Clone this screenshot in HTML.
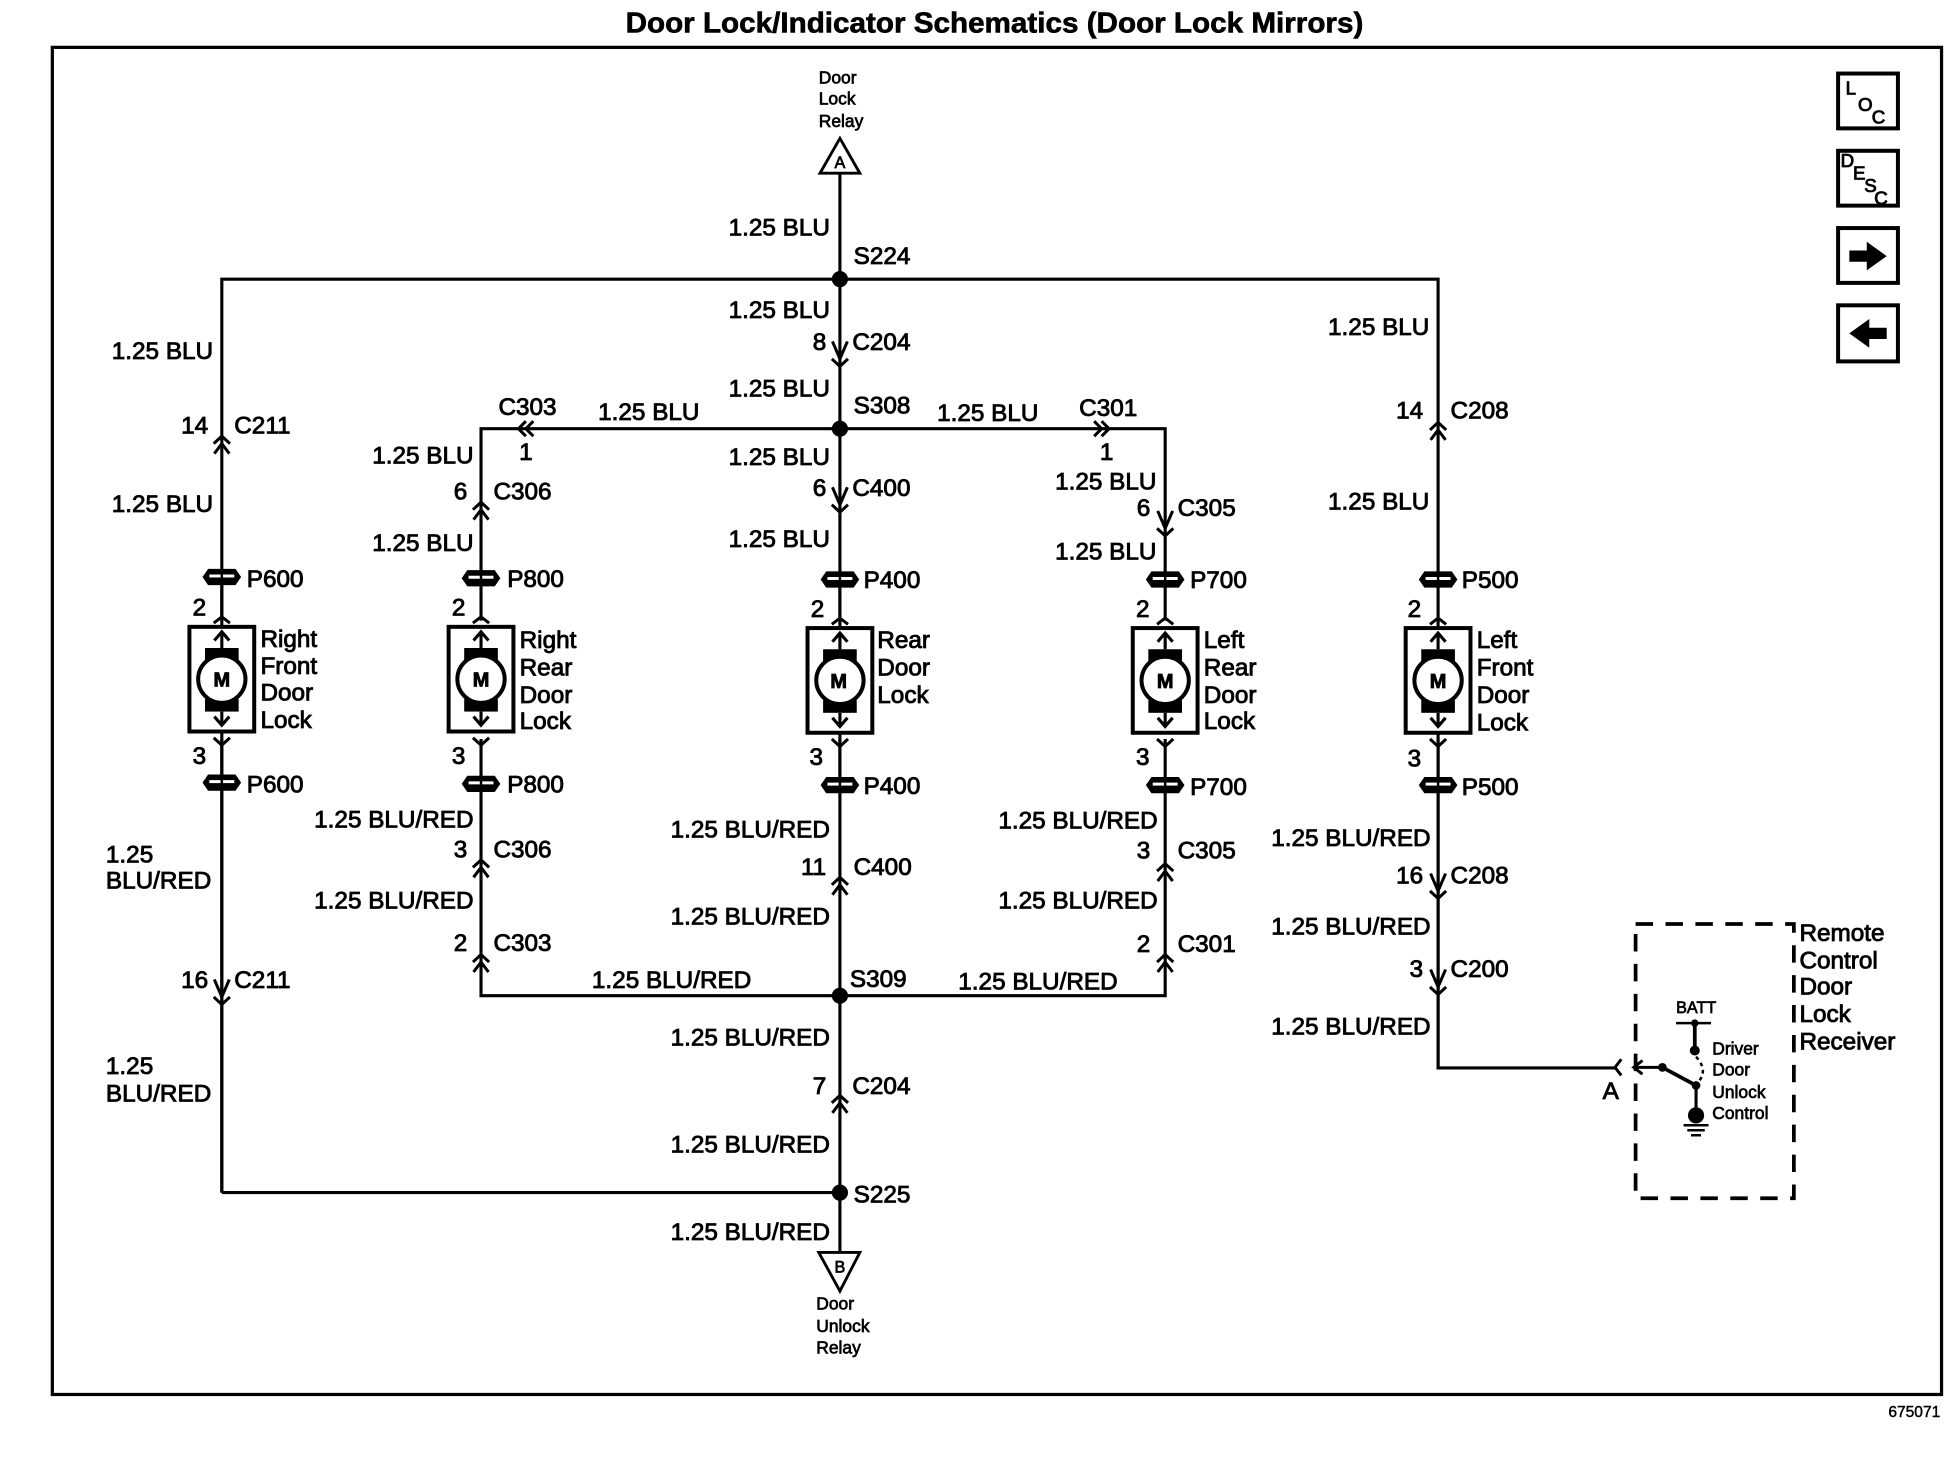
<!DOCTYPE html>
<html><head><meta charset="utf-8"><title>Door Lock/Indicator Schematics (Door Lock Mirrors)</title>
<style>
html,body{margin:0;padding:0;background:#fff;width:1954px;height:1472px;overflow:hidden}
svg{display:block}
text{font-family:"Liberation Sans",Arial,sans-serif;font-size:19.5px;fill:#000;stroke:#000;stroke-width:.7px}
.e{text-anchor:end}.m{text-anchor:middle}
.s{font-size:14px;stroke-width:.55px}
.w{fill:none;stroke:#000;stroke-width:2.5;stroke-linejoin:miter}
.c{fill:none;stroke:#000;stroke-width:2.4}
</style></head><body>
<svg xmlns="http://www.w3.org/2000/svg" width="1954" height="1472" viewBox="0 0 1568 1181.2">
<defs>
<g id="up"><path class="c" d="M-6.5 6L0 0L6.5 6M-6 14L0 6L6 14"/></g>
<g id="dn"><path class="c" d="M-6 -14L0 0L6 -14M-6.5 0L0 6L6.5 0" /></g>
<g id="pl"><path d="M-15.5 0L-11 -6.5H11L15.5 0L11 6.5H-11Z" fill="#000"/><rect x="-10" y="-2" width="20" height="2.4" fill="#fff"/><path d="M0 -3V3" stroke="#000" stroke-width="2"/></g>
<g id="mo">
<rect x="-26" y="-42" width="52" height="84" fill="#fff" stroke="#000" stroke-width="3.2"/>
<rect x="-13.5" y="-25" width="27" height="15" fill="#000"/>
<rect x="-13.5" y="16" width="27" height="10" fill="#000"/>
<circle r="19" fill="#fff" stroke="#000" stroke-width="3.2"/>
<path class="w" d="M0 -25V-37M-6 -31L0 -38L6 -31M0 26V36M-6 30L0 37L6 30"/>
<path class="c" d="M-6.5 -45L0 -50L6.5 -45M-6.5 47L0 53L6.5 47"/>
</g>
</defs>

<!-- frame -->
<rect x="42" y="38" width="1516" height="1081" fill="none" stroke="#000" stroke-width="2.6"/>

<!-- title -->
<text x="502" y="26" textLength="592" lengthAdjust="spacingAndGlyphs" style="font-size:23px;font-weight:bold;stroke-width:.5px">Door Lock/Indicator Schematics (Door Lock Mirrors)</text>

<!-- wires -->
<path class="w" d="M674 139V1005M178 957V224H1154V857H1296"/>
<path class="w" d="M178 957H674M178 498V463M178 593V957"/>
<path class="w" d="M386 498V344H935V498M386 593V799H935V593"/>
<path class="w" d="M1154 593V857M674 593V630"/>
<path d="M674 495V463" class="w" />

<circle cx="674" cy="224" r="6.5" /><circle cx="674" cy="344" r="6.5"/><circle cx="674" cy="799" r="6.5"/><circle cx="674" cy="957" r="6.5"/>

<!-- relay flags -->
<path d="M674 111L690 139H658Z" fill="#fff" stroke="#000" stroke-width="2.3"/>
<text class="s m" x="674" y="135" style="font-size:13px">A</text>
<path d="M657 1005H690L674 1036Z" fill="#fff" stroke="#000" stroke-width="2.3"/>
<text class="s m" x="674" y="1021" style="font-size:13px">B</text>
<text class="s" x="657" y="67">Door</text><text class="s" x="657" y="84">Lock</text><text class="s" x="657" y="102">Relay</text>
<text class="s" x="655" y="1051">Door</text><text class="s" x="655" y="1069">Unlock</text><text class="s" x="655" y="1086">Relay</text>

<!-- connectors -->
<use href="#up" x="178" y="350"/><use href="#up" x="386" y="403"/><use href="#up" x="1154" y="339"/>
<use href="#dn" x="674" y="288"/><use href="#dn" x="674" y="405"/><use href="#dn" x="935" y="424"/>
<use href="#up" x="386" y="690"/><use href="#up" x="386" y="766"/><use href="#dn" x="178" y="800"/>
<use href="#up" x="674" y="704"/><use href="#up" x="674" y="879"/>
<use href="#up" x="935" y="693"/><use href="#up" x="935" y="766"/>
<use href="#dn" x="1154" y="715"/><use href="#dn" x="1154" y="792"/>
<path class="c" d="M422 338L416 344L422 350M428 338L422 344L428 350M884 338L890 344L884 350M878 338L884 344L878 350"/>

<!-- plugs -->
<use href="#pl" x="178" y="463"/><use href="#pl" x="178" y="628"/>
<use href="#pl" x="386" y="464"/><use href="#pl" x="386" y="629"/>
<use href="#pl" x="674" y="465"/><use href="#pl" x="674" y="630"/>
<use href="#pl" x="935" y="465"/><use href="#pl" x="935" y="630"/>
<use href="#pl" x="1154" y="465"/><use href="#pl" x="1154" y="630"/>

<!-- motors -->
<g><use href="#mo" x="178" y="545"/><use href="#mo" x="386" y="545"/><use href="#mo" x="674" y="546"/><use href="#mo" x="935" y="546"/><use href="#mo" x="1154" y="546"/></g>
<g style="font-weight:bold">
<text class="m" x="178" y="551" style="font-size:16px">M</text><text class="m" x="386" y="551" style="font-size:16px">M</text><text class="m" x="673" y="552" style="font-size:16px">M</text><text class="m" x="935" y="552" style="font-size:16px">M</text><text class="m" x="1154" y="552" style="font-size:16px">M</text>
</g>

<!-- top & left labels -->
<text class="e" x="666" y="189">1.25 BLU</text><text x="685" y="212">S224</text>
<text class="e" x="666" y="255">1.25 BLU</text><text class="e" x="663" y="281">8</text><text x="684" y="281">C204</text>
<text class="e" x="666" y="318">1.25 BLU</text><text x="685" y="332">S308</text>
<text x="400" y="333">C303</text><text x="480" y="337">1.25 BLU</text><text x="752" y="338">1.25 BLU</text><text x="866" y="334">C301</text>
<text class="m" x="422" y="369">1</text><text class="m" x="888" y="369">1</text>

<text class="e" x="171" y="288">1.25 BLU</text><text class="e" x="167" y="348">14</text><text x="188" y="348">C211</text>
<text class="e" x="171" y="411">1.25 BLU</text><text x="198" y="471">P600</text><text class="m" x="160" y="494">2</text>

<text class="e" x="380" y="372">1.25 BLU</text><text class="e" x="375" y="401">6</text><text x="396" y="401">C306</text>
<text class="e" x="380" y="442">1.25 BLU</text><text x="407" y="471">P800</text><text class="m" x="368" y="494">2</text>

<text class="e" x="666" y="373">1.25 BLU</text><text class="e" x="663" y="398">6</text><text x="684" y="398">C400</text>
<text class="e" x="666" y="439">1.25 BLU</text><text x="693" y="472">P400</text><text class="m" x="656" y="495">2</text>

<text class="e" x="928" y="393">1.25 BLU</text><text class="e" x="923" y="414">6</text><text x="945" y="414">C305</text>
<text class="e" x="928" y="449">1.25 BLU</text><text x="955" y="472">P700</text><text class="m" x="917" y="495">2</text>

<text class="e" x="1147" y="269">1.25 BLU</text><text class="e" x="1142" y="336">14</text><text x="1164" y="336">C208</text>
<text class="e" x="1147" y="409">1.25 BLU</text><text x="1173" y="472">P500</text><text class="m" x="1135" y="495">2</text>

<!-- motor labels -->
<text x="209" y="519">Right</text><text x="209" y="541">Front</text><text x="209" y="562">Door</text><text x="209" y="584">Lock</text>
<text x="417" y="520">Right</text><text x="417" y="542">Rear</text><text x="417" y="564">Door</text><text x="417" y="585">Lock</text>
<text x="704" y="520">Rear</text><text x="704" y="542">Door</text><text x="704" y="564">Lock</text>
<text x="966" y="520">Left</text><text x="966" y="542">Rear</text><text x="966" y="564">Door</text><text x="966" y="585">Lock</text>
<text x="1185" y="520">Left</text><text x="1185" y="542">Front</text><text x="1185" y="564">Door</text><text x="1185" y="586">Lock</text>

<!-- lower labels -->
<text class="m" x="160" y="613">3</text><text class="m" x="368" y="613">3</text><text class="m" x="655" y="614">3</text><text class="m" x="917" y="614">3</text><text class="m" x="1135" y="615">3</text>
<text x="198" y="636">P600</text><text x="407" y="636">P800</text><text x="693" y="637">P400</text><text x="955" y="638">P700</text><text x="1173" y="638">P500</text>

<text x="85" y="692">1.25</text><text x="85" y="713">BLU/RED</text><text class="e" x="167" y="793">16</text><text x="188" y="793">C211</text>
<text x="85" y="862">1.25</text><text x="85" y="884">BLU/RED</text>

<text class="e" x="380" y="664">1.25 BLU/RED</text><text class="e" x="375" y="688">3</text><text x="396" y="688">C306</text>
<text class="e" x="380" y="729">1.25 BLU/RED</text><text class="e" x="375" y="763">2</text><text x="396" y="763">C303</text>
<text x="475" y="793">1.25 BLU/RED</text><text x="682" y="792">S309</text><text x="769" y="794">1.25 BLU/RED</text>

<text class="e" x="666" y="672">1.25 BLU/RED</text><text class="e" x="663" y="702">11</text><text x="685" y="702">C400</text>
<text class="e" x="666" y="742">1.25 BLU/RED</text><text class="e" x="666" y="839">1.25 BLU/RED</text>
<text class="e" x="663" y="878">7</text><text x="684" y="878">C204</text>
<text class="e" x="666" y="925">1.25 BLU/RED</text><text x="685" y="965">S225</text><text class="e" x="666" y="995">1.25 BLU/RED</text>

<text class="e" x="929" y="665">1.25 BLU/RED</text><text class="e" x="923" y="689">3</text><text x="945" y="689">C305</text>
<text class="e" x="929" y="729">1.25 BLU/RED</text><text class="e" x="923" y="764">2</text><text x="945" y="764">C301</text>

<text class="e" x="1148" y="679">1.25 BLU/RED</text><text class="e" x="1142" y="709">16</text><text x="1164" y="709">C208</text>
<text class="e" x="1148" y="750">1.25 BLU/RED</text><text class="e" x="1142" y="784">3</text><text x="1164" y="784">C200</text>
<text class="e" x="1148" y="830">1.25 BLU/RED</text>

<!-- receiver -->
<rect x="1312.5" y="741.5" width="127" height="220" fill="none" stroke="#000" stroke-width="3" stroke-dasharray="14 10"/>
<text x="1444" y="755">Remote</text><text x="1444" y="777">Control</text><text x="1444" y="798">Door</text><text x="1444" y="820">Lock</text><text x="1444" y="842">Receiver</text>
<text x="1286" y="882">A</text>
<path class="c" d="M1301 850L1296 856.5L1301 863"/>
<path class="c" d="M1318 851L1311 856.5L1318 862M1311 856.5H1333"/>
<circle cx="1334" cy="856.5" r="3.5"/>
<path class="w" style="stroke-width:3" d="M1334 856.5L1361 871"/>
<path class="w" style="stroke-width:2" d="M1345 821H1373"/>
<path class="w" style="stroke-width:3" d="M1360 821V843"/>
<circle cx="1360" cy="821" r="3"/><circle cx="1360" cy="843" r="4"/><circle cx="1361" cy="871" r="3.5"/>
<path d="M1361 848Q1372 860 1361 870" fill="none" stroke="#000" stroke-width="2" stroke-dasharray="3 3"/>
<path class="w" d="M1361 871V890"/>
<circle cx="1361" cy="895" r="6.5"/>
<path d="M1351 903H1371M1354 907H1368M1357 911H1365" stroke="#000" stroke-width="2"/>
<text class="s" x="1345" y="813" style="font-size:13px">BATT</text>
<text class="s" x="1374" y="846">Driver</text><text class="s" x="1374" y="863">Door</text><text class="s" x="1374" y="881">Unlock</text><text class="s" x="1374" y="898">Control</text>

<text class="e" x="1557" y="1137" style="font-size:12.5px;stroke-width:.35px">675071</text>

<!-- icons -->
<g fill="#fff" stroke="#000" stroke-width="3.2">
<rect x="1475" y="59" width="48" height="44"/>
<rect x="1475" y="121" width="48" height="44"/>
<rect x="1475" y="183" width="48" height="44"/>
<rect x="1475" y="245" width="48" height="45"/>
</g>
<text x="1481" y="76" style="font-size:15px">L</text><text x="1491" y="89" style="font-size:15px">O</text><text x="1502" y="99" style="font-size:15px">C</text>
<text x="1477" y="134" style="font-size:15px">D</text><text x="1487" y="144" style="font-size:15px">E</text><text x="1496" y="154" style="font-size:15px">S</text><text x="1504" y="164" style="font-size:15px">C</text>
<path d="M1484 201H1498V194L1514 205.5L1498 217V210H1484Z"/>
<path d="M1514 263H1500V256L1484 267.5L1500 279V272H1514Z"/>
</svg>
</body></html>
